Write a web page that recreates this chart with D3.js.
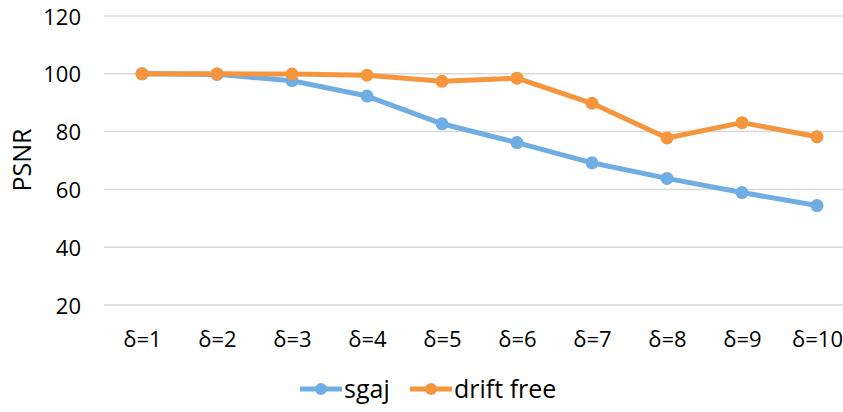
<!DOCTYPE html>
<html>
<head>
<meta charset="utf-8">
<script src="https://cdn.jsdelivr.net/npm/d3@7"></script>
<style>
  html, body { margin: 0; padding: 0; background: #fff; }
  svg { display: block; font-family: "Open Sans", "Noto Sans", sans-serif; }
</style>
</head>
<body>
<div class="chart"></div>
<script>
// 資料
const categories = ["δ=1", "δ=2", "δ=3", "δ=4", "δ=5", "δ=6", "δ=7", "δ=8", "δ=9", "δ=10"];
const sgaj = [100, 99.8, 97.6, 92.3, 82.7, 76.2, 69.2, 63.8, 58.9, 54.4];
const driftFree = [100, 100, 99.9, 99.5, 97.4, 98.5, 89.8, 77.8, 83.1, 78.2];
const yTicks = [20, 40, 60, 80, 100, 120];
const seriesNames = ["sgaj", "drift free"];
const seriesColors = ["#70ADE2", "#F5963F"];

const W = 843, H = 412;
const svg = d3.select('.chart').append('svg')
  .attr('width', W).attr('height', H);

// scales
const x = d3.scalePoint().domain(categories).range([142, 817]);
const y = d3.scaleLinear().domain([20, 120]).range([305, 16]);

// gridlines
svg.append('g').selectAll('line')
  .data(yTicks)
  .enter().append('line')
  .attr('x1', 104).attr('x2', W)
  .attr('y1', d => y(d)).attr('y2', d => y(d))
  .attr('stroke', '#d9d9d9').attr('stroke-width', 1.5);

// y axis labels
const yAxis = d3.axisLeft(y).tickValues(yTicks).tickSize(0).tickPadding(0);
svg.append('g')
  .attr('transform', 'translate(81,1)')
  .call(yAxis)
  .call(g => g.select('.domain').remove())
  .selectAll('text')
  .attr('font-size', 22).attr('fill', '#000')
  .attr('font-family', '"Open Sans", sans-serif');

// x axis labels
const xAxis = d3.axisBottom(x).tickSize(0).tickPadding(0);
svg.append('g')
  .attr('transform', 'translate(0,331)')
  .call(xAxis)
  .call(g => g.select('.domain').remove())
  .selectAll('text')
  .attr('font-size', 22).attr('fill', '#000')
  .attr('font-family', '"Open Sans", sans-serif');

// y title
svg.append('text')
  .attr('transform', 'translate(31,160) rotate(-90)')
  .attr('text-anchor', 'middle')
  .attr('font-size', 25)
  .text('PSNR');

// lines
const series = [sgaj, driftFree];
const line = d3.line()
  .x((d, i) => x(categories[i]))
  .y(d => y(d));

series.forEach((s, k) => {
  const g = svg.append('g');
  g.append('path')
    .datum(s)
    .attr('fill', 'none')
    .attr('stroke', seriesColors[k])
    .attr('stroke-width', 5)
    .attr('stroke-linejoin', 'round')
    .attr('d', line);
  g.selectAll('circle')
    .data(s)
    .enter().append('circle')
    .attr('cx', (d, i) => x(categories[i]))
    .attr('cy', d => y(d))
    .attr('r', 6.5)
    .attr('fill', seriesColors[k]);
});

// legend
const legendX = [300, 410];
const legendY = 389;
const legend = svg.selectAll('g.legend')
  .data(seriesNames)
  .enter().append('g')
  .attr('class', 'legend')
  .attr('transform', (d, i) => `translate(${legendX[i]},${legendY})`);
legend.append('line')
  .attr('x1', 0).attr('x2', 42)
  .attr('stroke', (d, i) => seriesColors[i])
  .attr('stroke-width', 5);
legend.append('circle')
  .attr('cx', 21).attr('r', 6)
  .attr('fill', (d, i) => seriesColors[i]);
legend.append('text')
  .attr('x', 44).attr('dy', '0.35em')
  .attr('font-size', 25)
  .text(d => d);
</script>
</body>
</html>
